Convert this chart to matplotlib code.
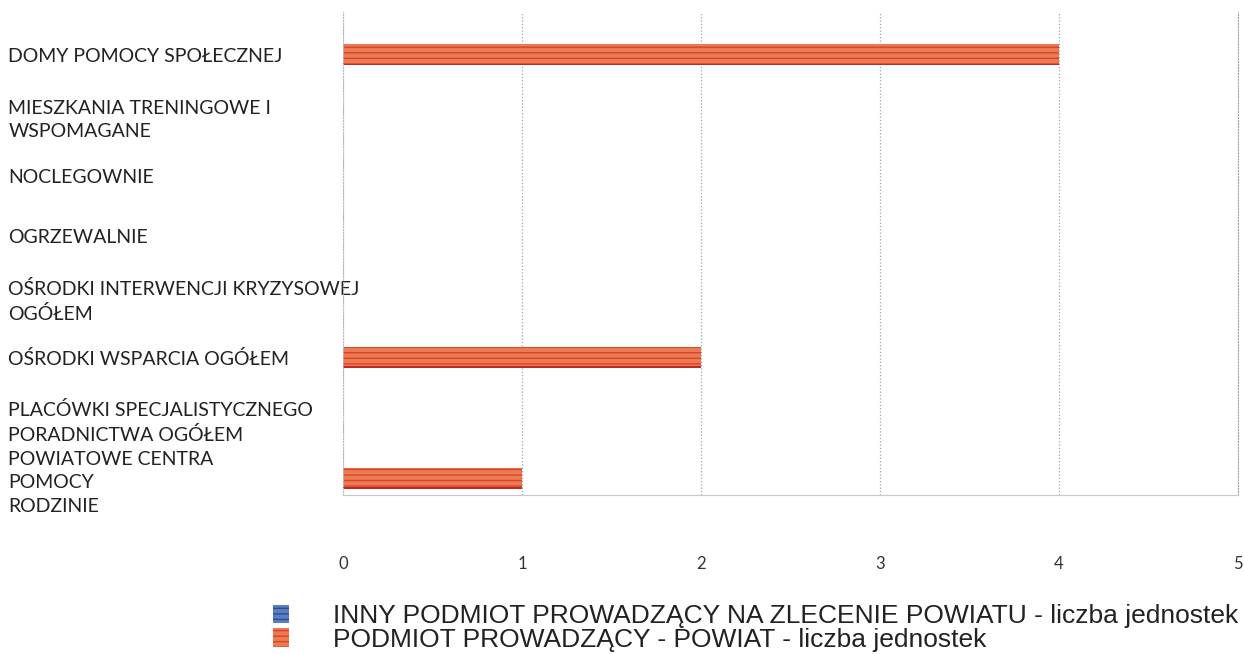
import matplotlib.pyplot as plt
import numpy as np

# categories, top to bottom
kategorie = ['DOMY POMOCY SPOŁECZNEJ',
             'MIESZKANIA TRENINGOWE I\nWSPOMAGANE',
             'NOCLEGOWNIE',
             'OGRZEWALNIE',
             'OŚRODKI INTERWENCJI KRYZYSOWEJ\nOGÓŁEM',
             'OŚRODKI WSPARCIA OGÓŁEM',
             'PLACÓWKI SPECJALISTYCZNEGO\nPORADNICTWA OGÓŁEM',
             'POWIATOWE CENTRA\nPOMOCY\nRODZINIE']
inny_podmiot = [0, 0, 0, 0, 0, 0, 0, 0]
powiat = [4, 0, 0, 0, 0, 2, 0, 1]
x_ticks = [0, 1, 2, 3, 4, 5]

lab_inny = 'INNY PODMIOT PROWADZĄCY NA ZLECENIE POWIATU - liczba jednostek'
lab_powiat = 'PODMIOT PROWADZĄCY - POWIAT - liczba jednostek'

fig = plt.figure(figsize=(12.44, 6.54), dpi=100)
ax = fig.add_axes([0.2757, 0.2431, 0.7193, 0.7386])

y = np.arange(len(kategorie))
b2 = ax.barh(y + 0.35, inny_podmiot, height=0.35, color='#5a7fc0',
             edgecolor='#2a4f90', hatch='---', linewidth=0, label=lab_inny)
b1 = ax.barh(y, powiat, height=0.35, color='#ec7a52', edgecolor='#d8452a',
             hatch='---', linewidth=0, label=lab_powiat)
# dark bottom edge line of the red bars
ax.barh(y + 0.16, powiat, height=0.03, color='#c0282a', linewidth=0)

ax.set_xlim(0, 5)
ax.set_ylim(7.28, -0.71)
ax.set_xticks(x_ticks)
ax.set_yticks(y)
ax.set_yticklabels(kategorie, fontfamily='Lato', fontsize=14,
                   color='#222222', ha='left', linespacing=1.45)
ax.tick_params(axis='y', length=0, pad=241)
ax.tick_params(axis='x', length=0, pad=44, labelsize=12, labelcolor='#333333')
for t in ax.get_xticklabels():
    t.set_fontfamily('Lato')

ax.grid(axis='x', color='#9aa4b8', linestyle=':', linewidth=0.9)
ax.set_axisbelow(True)
ax.spines['top'].set_visible(False)
ax.spines['left'].set_color('#b8bcc8')
ax.spines['left'].set_linestyle(':')
ax.spines['right'].set_color('#9aa4b8')
ax.spines['right'].set_linestyle(':')
ax.spines['bottom'].set_color('#c8c8d0')
ax.spines['bottom'].set_linewidth(0.8)

leg = fig.legend(handles=[b2, b1], labels=[lab_inny, lab_powiat],
                 loc='upper left', bbox_to_anchor=(0.209, 0.096),
                 frameon=False, handlelength=0.6, handleheight=0.7,
                 handletextpad=1.65, labelspacing=-0.02, borderpad=0,
                 prop={'family': 'Liberation Sans', 'size': 19})
for t in leg.get_texts():
    t.set_color('#222222')

fig.savefig('out.png', dpi=100)
